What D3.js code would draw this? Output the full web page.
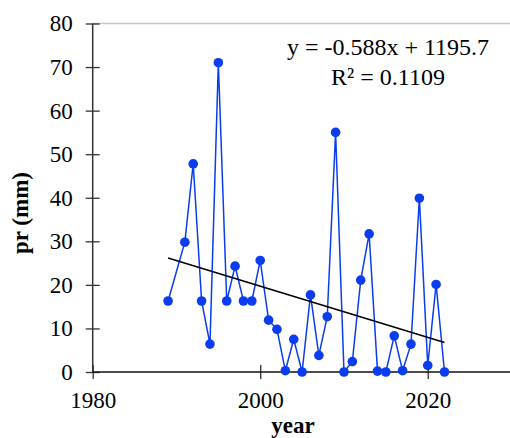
<!DOCTYPE html>
<html>
<head>
<meta charset="utf-8">
<script src="https://cdn.jsdelivr.net/npm/d3@7"></script>
</head>
<body style="margin:0; background:#fff">
<svg id="chart" width="510" height="438" font-family="Liberation Serif"></svg>
<script>
var years = [1989, 1991, 1992, 1993, 1994, 1995, 1996, 1997, 1998, 1999,
  2000, 2001, 2002, 2003, 2004, 2005, 2006, 2007, 2008, 2009,
  2010, 2011, 2012, 2013, 2014, 2015, 2016, 2017, 2018, 2019,
  2020, 2021, 2022];
var pr = [16.3, 29.8, 47.8, 16.3, 6.4, 71, 16.3, 24.3, 16.3, 16.3,
  25.6, 11.9, 9.8, 0.3, 7.5, 0, 17.7, 3.8, 12.7, 55,
  0, 2.4, 21.1, 31.7, 0.2, 0, 8.3, 0.3, 6.4, 39.9,
  1.5, 20.1, 0];
var xTicks = [1980, 2000, 2020];
var yTicks = [0, 10, 20, 30, 40, 50, 60, 70, 80];
var slope = -0.588, intercept = 1195.7;
var eqLines = ["y = -0.588x + 1195.7", "R² = 0.1109"];

var FONT = "Liberation Serif";
var svg = d3.select("#chart");

var x = d3.scaleLinear().domain([1980, 2030]).range([92.7, 511.5]);
var y = d3.scaleLinear().domain([0, 80]).range([372, 23.5]);

// top gridline
svg.append("line")
  .attr("x1", x(1980)).attr("x2", x(2030))
  .attr("y1", y(80)).attr("y2", y(80))
  .style("stroke", "#c8c8c8")
  .style("stroke-width", 1.3);

var yAxis = svg.append("g")
  .attr("transform", "translate(" + x(1980) + ",0)")
  .call(d3.axisLeft(y).tickValues(yTicks).tickSize(0).tickPadding(20));
yAxis.attr("font-family", FONT).attr("font-size", 23);
yAxis.select(".domain").remove();
yAxis.selectAll("text").style("fill", "#000");
yAxis.selectAll(".tick").append("line")
  .attr("x1", -7).attr("x2", 7)
  .style("stroke", "#333").style("stroke-width", 1.3);

var xAxis = svg.append("g")
  .attr("transform", "translate(0," + y(0) + ")")
  .call(d3.axisBottom(x).tickValues(xTicks).tickFormat(d3.format("d")).tickSize(0).tickPadding(20));
xAxis.attr("font-family", FONT).attr("font-size", 23);
xAxis.select(".domain").remove();
xAxis.selectAll("text").style("fill", "#000");
xAxis.selectAll(".tick").append("line")
  .attr("y1", -7).attr("y2", 7)
  .style("stroke", "#333").style("stroke-width", 1.3);

// axis lines
svg.append("line")
  .attr("x1", x(1980)).attr("x2", x(1980))
  .attr("y1", y(80)).attr("y2", y(0))
  .style("stroke", "#333").style("stroke-width", 1.5);
svg.append("line")
  .attr("x1", x(1980)).attr("x2", x(2030))
  .attr("y1", y(0)).attr("y2", y(0))
  .style("stroke", "#111").style("stroke-width", 1.5);

var data = years.map(function(d, i) { return [d, pr[i]]; });

svg.append("path")
  .datum(data)
  .attr("d", d3.line().x(function(d) { return x(d[0]); }).y(function(d) { return y(d[1]); }))
  .style("fill", "none")
  .style("stroke", "#0a3cf0")
  .style("stroke-width", 1.5);

// trendline
var x0 = d3.min(years), x1 = d3.max(years);
svg.append("line")
  .attr("x1", x(x0)).attr("y1", y(slope * x0 + intercept))
  .attr("x2", x(x1)).attr("y2", y(slope * x1 + intercept))
  .style("stroke", "#000")
  .style("stroke-width", 1.5);

svg.append("g").selectAll("circle")
  .data(data)
  .enter().append("circle")
  .attr("cx", function(d) { return x(d[0]); })
  .attr("cy", function(d) { return y(d[1]); })
  .attr("r", 4.8)
  .style("fill", "#0a3cf0");

svg.append("g").selectAll("text")
  .data(eqLines)
  .enter().append("text")
  .attr("x", 388)
  .attr("y", function(d, i) { return 55 + i * 30; })
  .attr("text-anchor", "middle")
  .style("font-family", FONT)
  .style("font-size", "24px")
  .text(function(d) { return d; });

svg.append("text")
  .attr("transform", "translate(28,213) rotate(-90)")
  .attr("text-anchor", "middle")
  .style("font-family", FONT)
  .style("font-size", "23px")
  .style("font-weight", "bold")
  .text("pr (mm)");

svg.append("text")
  .attr("x", 293)
  .attr("y", 433)
  .attr("text-anchor", "middle")
  .style("font-family", FONT)
  .style("font-size", "23px")
  .style("font-weight", "bold")
  .text("year");
</script>
</body>
</html>
